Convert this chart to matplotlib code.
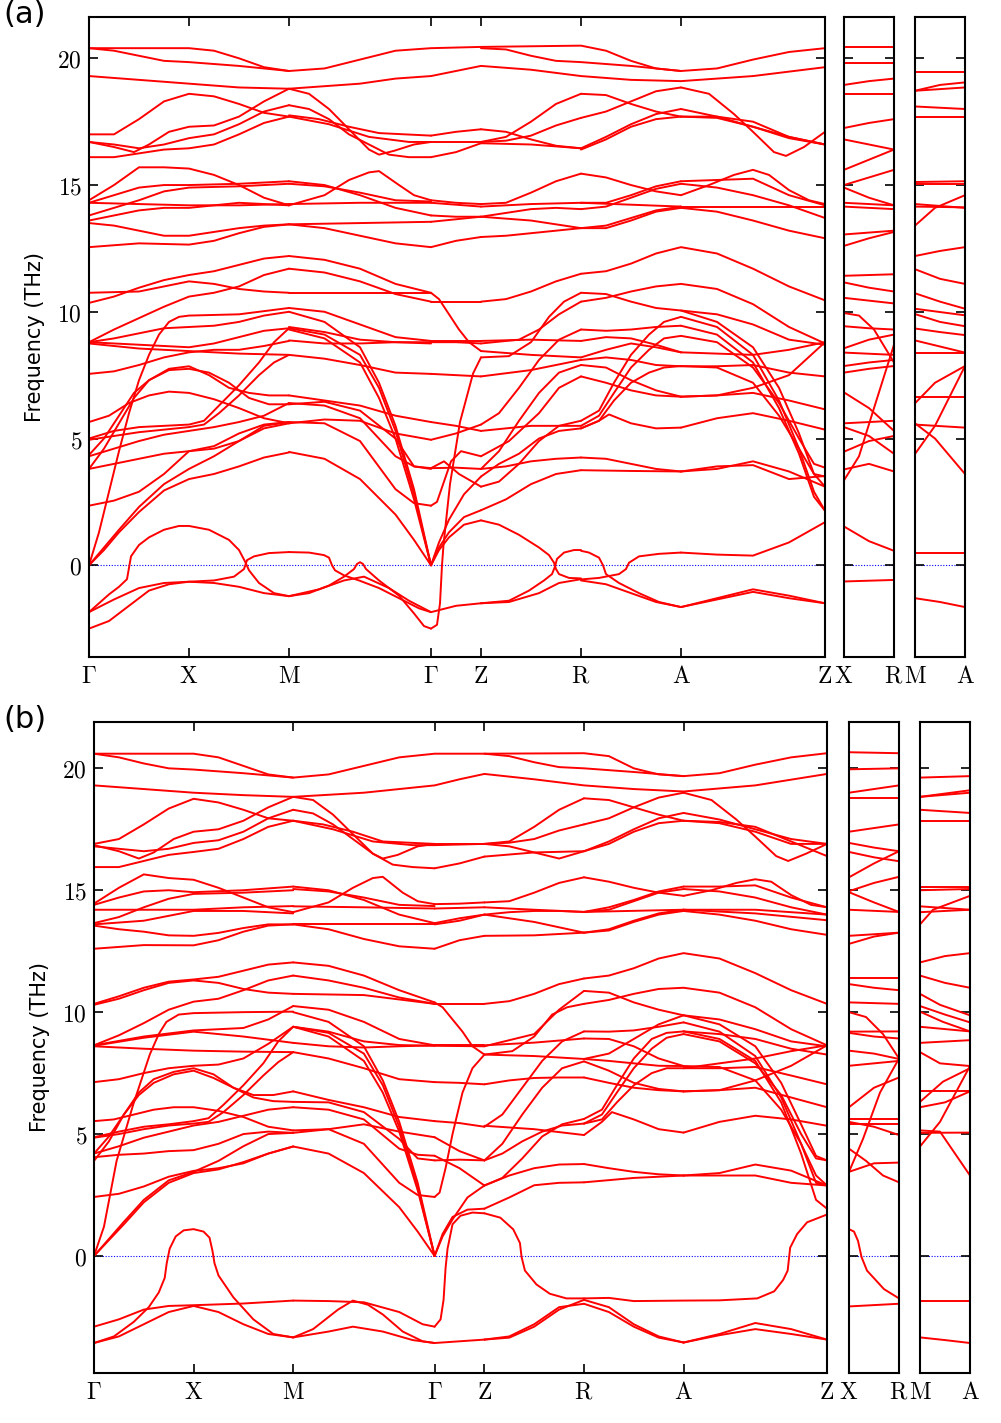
import matplotlib
matplotlib.use("Agg")
import matplotlib.pyplot as plt

plt.rcParams["mathtext.fontset"] = "cm"
plt.rcParams["font.family"] = ["DejaVu Sans"]

# high-symmetry points along the main path (Gamma-X = 1)
PATH_TICKS = [0, 1, 2, 3.42, 3.92, 4.92, 5.92, 7.36]
PATH_LABELS = [r"$\Gamma$", r"$\mathrm{X}$", r"$\mathrm{M}$", r"$\Gamma$", r"$\mathrm{Z}$",
               r"$\mathrm{R}$", r"$\mathrm{A}$", r"$\mathrm{Z}$"]
XR_LABELS = [r"$\mathrm{X}$", r"$\mathrm{R}$"]
MA_LABELS = [r"$\mathrm{M}$", r"$\mathrm{A}$"]
FREQ_TICKS = [0, 5, 10, 15, 20]

# ---------------- panel (a) ----------------
A_HIGH = [
    [(0, 20.4), (1, 20.4), (1.25, 20.3), (1.5, 20.0), (1.75, 19.65), (2, 19.5), (2.355, 19.6), (2.71, 19.95), (3.065, 20.3), (3.42, 20.4), (3.92, 20.45), (4.92, 20.5), (5.17, 20.3), (5.42, 19.9), (5.67, 19.6), (5.92, 19.5), (6.28, 19.6), (6.64, 19.95), (7.0, 20.25), (7.36, 20.4)],
    [(0, 20.4), (0.25, 20.3), (0.5, 20.1), (0.75, 19.9), (1, 19.85), (1.5, 19.7), (2, 19.5)],
    [(3.92, 20.4), (4.17, 20.35), (4.42, 20.1), (4.67, 19.9), (4.92, 19.85), (5.42, 19.7), (5.92, 19.5)],
    [(0, 19.3), (0.5, 19.15), (1, 19.0), (1.5, 18.85), (2, 18.8), (2.71, 19.0), (3.065, 19.2), (3.42, 19.3), (3.67, 19.5), (3.92, 19.7), (4.42, 19.55), (4.92, 19.3), (5.42, 19.15), (5.92, 19.1), (6.64, 19.3), (7.36, 19.65)],
    [(0, 17.0), (0.25, 17.0), (0.5, 17.6), (0.75, 18.3), (1, 18.6), (1.25, 18.5), (1.5, 18.2), (1.75, 17.85), (2, 17.7)],
    [(0, 16.7), (0.25, 16.5), (0.45, 16.3), (0.6, 16.6), (0.8, 17.1), (1, 17.3), (1.25, 17.35), (1.5, 17.7), (1.75, 18.3), (2, 18.8)],
    [(0, 16.7), (0.25, 16.6), (0.5, 16.45), (0.75, 16.6), (1, 16.85), (1.25, 17.0), (1.5, 17.4), (1.75, 17.9), (2, 18.15)],
    [(0, 16.1), (0.25, 16.1), (0.5, 16.25), (0.75, 16.4), (1, 16.45), (1.25, 16.6), (1.5, 17.0), (1.75, 17.45), (2, 17.7)],
    [(2, 18.8), (2.2, 18.6), (2.4, 18.0), (2.6, 17.2), (2.8, 16.4), (2.9, 16.2), (3.05, 16.35), (3.25, 16.6), (3.42, 16.7)],
    [(2, 18.15), (2.2, 18.0), (2.4, 17.6), (2.6, 17.0), (2.8, 16.6), (3.0, 16.2), (3.2, 16.1), (3.42, 16.1)],
    [(2, 17.75), (2.3, 17.6), (2.6, 17.3), (2.9, 17.05), (3.42, 16.95)],
    [(2, 17.7), (2.4, 17.4), (2.8, 16.9), (3.2, 16.7), (3.42, 16.7)],
    [(3.42, 16.95), (3.67, 17.1), (3.92, 17.2)],
    [(3.42, 16.7), (3.92, 16.7)],
    [(3.42, 16.1), (3.67, 16.3), (3.92, 16.65)],
    [(3.92, 16.7), (4.17, 16.9), (4.42, 17.5), (4.67, 18.2), (4.92, 18.6)],
    [(3.92, 16.7), (4.17, 16.75), (4.42, 16.95), (4.67, 17.35), (4.92, 17.65)],
    [(3.92, 17.2), (4.17, 17.1), (4.42, 16.8), (4.67, 16.55), (4.92, 16.45)],
    [(3.92, 16.65), (4.42, 16.6), (4.92, 16.45)],
    [(4.92, 18.6), (5.17, 18.55), (5.42, 18.2), (5.67, 17.9), (5.92, 17.7)],
    [(4.92, 17.65), (5.17, 17.9), (5.42, 18.3), (5.67, 18.7), (5.92, 18.85)],
    [(4.92, 16.45), (5.17, 16.9), (5.42, 17.4), (5.67, 17.8), (5.92, 18.0)],
    [(4.92, 16.4), (5.17, 16.8), (5.42, 17.3), (5.67, 17.6), (5.92, 17.7)],
    [(5.92, 18.85), (6.2, 18.6), (6.45, 17.8), (6.64, 17.1), (6.85, 16.3), (6.97, 16.15), (7.15, 16.5), (7.36, 17.1)],
    [(5.92, 18.0), (6.28, 17.7), (6.64, 17.3), (7.0, 16.85), (7.36, 16.6)],
    [(5.92, 17.7), (6.28, 17.7), (6.64, 17.5), (7.0, 16.9), (7.36, 16.6)],
    [(5.92, 17.7), (6.28, 17.65), (6.64, 17.3), (7.0, 16.9), (7.36, 16.6)],
]

A_MID = [
    [(0, 14.4), (0.25, 15.0), (0.5, 15.7), (0.75, 15.7), (1, 15.65), (1.25, 15.4), (1.5, 15.0), (1.75, 14.5), (2, 14.2)],
    [(0, 14.3), (0.25, 14.6), (0.5, 14.9), (0.75, 15.0), (1, 15.0), (1.5, 15.05), (2, 15.15)],
    [(0, 13.8), (0.25, 14.1), (0.5, 14.4), (0.75, 14.75), (1, 14.9), (1.5, 14.95), (2, 15.05)],
    [(0, 14.3), (0.5, 14.25), (1, 14.2), (1.5, 14.2), (2, 14.25)],
    [(0, 13.6), (0.25, 13.8), (0.5, 14.0), (0.75, 14.1), (1, 14.1), (1.25, 14.2), (1.5, 14.3), (2, 14.2)],
    [(0, 13.5), (0.25, 13.4), (0.5, 13.2), (0.75, 13.0), (1, 13.0), (1.25, 13.15), (1.5, 13.3), (1.75, 13.4), (2, 13.45)],
    [(0, 12.55), (0.5, 12.7), (1, 12.65), (1.25, 12.8), (1.5, 13.1), (1.75, 13.35), (2, 13.45)],
    [(2, 14.2), (2.355, 14.6), (2.6, 15.2), (2.8, 15.5), (2.9, 15.55), (3.1, 15.0), (3.25, 14.6), (3.42, 14.4)],
    [(2, 15.15), (2.355, 15.0), (2.71, 14.6), (3.065, 14.1), (3.42, 13.8)],
    [(2, 15.05), (2.355, 14.95), (2.71, 14.7), (3.065, 14.4), (3.42, 14.35)],
    [(2, 14.25), (2.71, 14.3), (3.42, 14.3)],
    [(2, 13.45), (2.355, 13.3), (2.71, 13.0), (3.065, 12.7), (3.42, 12.55)],
    [(2, 13.45), (2.71, 13.5), (3.42, 13.55)],
    [(3.42, 14.4), (3.67, 14.3), (3.92, 14.25)],
    [(3.42, 14.3), (3.92, 14.15)],
    [(3.42, 13.8), (3.67, 13.75), (3.92, 13.75)],
    [(3.42, 13.55), (3.67, 13.65), (3.92, 13.75)],
    [(3.42, 12.55), (3.67, 12.8), (3.92, 12.95)],
    [(3.92, 14.25), (4.17, 14.3), (4.42, 14.7), (4.67, 15.15), (4.92, 15.45)],
    [(3.92, 14.15), (4.42, 14.25), (4.92, 14.3)],
    [(3.92, 13.75), (4.17, 13.9), (4.42, 14.05), (4.67, 14.1), (4.92, 14.05)],
    [(3.92, 13.75), (4.42, 13.6), (4.92, 13.3)],
    [(3.92, 12.95), (4.17, 13.0), (4.42, 13.1), (4.67, 13.2), (4.92, 13.3)],
    [(4.92, 15.45), (5.17, 15.3), (5.42, 15.0), (5.67, 14.75), (5.92, 14.6)],
    [(4.92, 14.3), (5.17, 14.3), (5.42, 14.6), (5.67, 14.95), (5.92, 15.15)],
    [(4.92, 14.05), (5.17, 14.15), (5.42, 14.5), (5.67, 14.85), (5.92, 15.05)],
    [(4.92, 13.3), (5.17, 13.4), (5.42, 13.7), (5.67, 14.0), (5.92, 14.15)],
    [(4.92, 13.3), (5.17, 13.3), (5.42, 13.6), (5.67, 13.95), (5.92, 14.1)],
    [(4.92, 14.3), (5.92, 14.15)],
    [(5.92, 14.6), (6.2, 15.0), (6.45, 15.4), (6.64, 15.6), (6.8, 15.4), (7.0, 14.8), (7.2, 14.4), (7.36, 14.25)],
    [(5.92, 15.15), (6.28, 15.2), (6.64, 15.25), (7.0, 14.6), (7.36, 14.2)],
    [(5.92, 15.05), (6.28, 14.9), (6.64, 14.6), (7.0, 14.2), (7.36, 13.7)],
    [(5.92, 14.15), (6.64, 14.15), (7.36, 14.15)],
    [(5.92, 14.1), (6.28, 13.95), (6.64, 13.6), (7.0, 13.2), (7.36, 12.9)],
    # 10 - 12.5 THz
    [(0, 10.35), (0.25, 10.6), (0.5, 10.95), (0.75, 11.25), (1, 11.45), (1.25, 11.6), (1.5, 11.85), (1.75, 12.1), (2, 12.2)],
    [(0, 10.75), (0.5, 10.8), (0.75, 11.0), (1, 11.2), (1.25, 11.1), (1.5, 10.9), (1.75, 10.8), (2, 10.75)],
    [(0, 8.8), (0.25, 9.3), (0.5, 9.75), (0.75, 10.2), (1, 10.6), (1.25, 10.75), (1.5, 11.0), (1.75, 11.45), (2, 11.7)],
    [(2, 12.2), (2.355, 12.05), (2.71, 11.7), (3.065, 11.1), (3.42, 10.75)],
    [(2, 11.7), (2.355, 11.55), (2.71, 11.2), (3.065, 10.7), (3.42, 10.4)],
    [(2, 10.75), (2.71, 10.75), (3.42, 10.75)],
    [(3.42, 10.4), (3.67, 10.4), (3.92, 10.4)],
    [(3.42, 10.75), (3.5, 10.5), (3.6, 9.9), (3.7, 9.3), (3.8, 8.8), (3.92, 8.45)],
    [(3.92, 10.4), (4.17, 10.5), (4.42, 10.8), (4.67, 11.2), (4.92, 11.5)],
    [(4.92, 11.5), (5.17, 11.6), (5.42, 11.9), (5.67, 12.3), (5.92, 12.55), (6.28, 12.3), (6.64, 11.7), (7.0, 11.0), (7.36, 10.45)],
    [(4.92, 10.4), (5.17, 10.55), (5.42, 10.8), (5.67, 11.0), (5.92, 11.1), (6.28, 10.9), (6.64, 10.3), (7.0, 9.4), (7.36, 8.75)],
    [(4.92, 10.75), (5.17, 10.7), (5.42, 10.4), (5.67, 10.15), (5.92, 10.05), (6.28, 9.9), (6.64, 9.5), (7.0, 8.9), (7.36, 8.7)],
]

A_LOW = [
    # Gamma - X - M
    [(0, 0), (0.1, 1.3), (0.2, 2.9), (0.3, 4.5), (0.4, 6.0), (0.5, 7.3), (0.6, 8.3), (0.7, 9.1), (0.8, 9.6), (0.9, 9.8), (1, 9.85), (1.5, 9.9), (2, 10.15)],
    [(0, 8.8), (0.25, 8.95), (0.5, 9.15), (0.75, 9.35), (1, 9.4), (1.25, 9.45), (1.5, 9.6), (1.75, 9.85), (2, 10.0)],
    [(0, 8.8), (0.5, 8.7), (1, 8.6), (1.25, 8.75), (1.5, 9.0), (1.75, 9.25), (2, 9.35)],
    [(0, 8.75), (0.5, 8.55), (1, 8.45), (1.5, 8.35), (2, 8.3)],
    [(0, 7.55), (0.25, 7.65), (0.5, 7.9), (0.75, 8.2), (1, 8.4), (1.25, 8.5), (1.5, 8.5), (1.75, 8.65), (2, 8.85)],
    [(0, 3.8), (0.15, 4.6), (0.3, 5.6), (0.45, 6.6), (0.6, 7.3), (0.8, 7.75), (1, 7.85), (1.2, 7.5), (1.4, 7.0), (1.6, 6.8), (1.8, 6.7), (2, 6.7)],
    [(0, 4.35), (0.15, 5.0), (0.3, 5.9), (0.45, 6.8), (0.6, 7.3), (0.8, 7.7), (1, 7.75), (1.2, 7.6), (1.4, 7.2), (1.6, 6.6), (1.8, 6.35), (2, 6.35)],
    [(0, 5.65), (0.2, 5.9), (0.4, 6.4), (0.6, 6.7), (0.8, 6.85), (1, 6.8), (1.25, 6.55), (1.5, 6.2), (1.75, 5.8), (2, 5.6)],
    [(0, 5.0), (0.25, 5.3), (0.5, 5.45), (0.75, 5.5), (1, 5.55), (1.15, 5.7), (1.3, 6.3), (1.5, 7.1), (1.7, 8.0), (1.85, 8.8), (2, 9.35)],
    [(0, 4.95), (0.25, 5.1), (0.5, 5.25), (0.75, 5.35), (1, 5.45), (1.15, 5.55), (1.3, 6.0), (1.5, 6.7), (1.7, 7.5), (1.85, 8.0), (2, 8.3)],
    [(0, 4.3), (0.25, 4.6), (0.5, 4.9), (0.75, 5.15), (1, 5.3), (1.25, 5.45), (1.5, 5.65), (1.75, 5.9), (2, 6.4)],
    [(0, 3.8), (0.25, 4.0), (0.5, 4.2), (0.75, 4.4), (1, 4.5), (1.25, 4.7), (1.5, 5.2), (1.75, 5.55), (2, 5.65)],
    [(0, 2.35), (0.25, 2.55), (0.5, 2.9), (0.75, 3.6), (1, 4.5), (1.25, 4.6), (1.5, 4.9), (1.75, 5.4), (2, 5.6)],
    [(0, 0), (0.15, 0.7), (0.3, 1.4), (0.5, 2.3), (0.75, 3.2), (1, 3.8), (1.25, 4.3), (1.5, 4.9), (1.75, 5.5), (2, 5.65)],
    [(0, 0), (0.15, 0.6), (0.3, 1.3), (0.5, 2.1), (0.75, 2.95), (1, 3.4), (1.25, 3.6), (1.5, 3.9), (1.75, 4.25), (2, 4.45)],
    [(0, -1.85), (0.1, -1.5), (0.2, -1.15), (0.3, -0.85), (0.38, -0.55), (0.4, -0.1), (0.42, 0.35), (0.5, 0.8), (0.6, 1.1), (0.75, 1.4), (0.9, 1.55), (1, 1.55), (1.2, 1.4), (1.4, 1.0), (1.5, 0.6), (1.56, 0.15), (1.6, -0.2), (1.7, -0.7), (1.85, -1.1), (2, -1.22)],
    [(0, -1.85), (0.25, -1.35), (0.5, -0.9), (0.75, -0.7), (1, -0.65), (1.25, -0.6), (1.45, -0.45), (1.55, -0.15), (1.58, 0.2), (1.65, 0.35), (1.8, 0.48), (2, 0.52)],
    [(0, -2.5), (0.2, -2.2), (0.4, -1.6), (0.6, -1.0), (0.8, -0.75), (1, -0.65), (1.25, -0.7), (1.5, -0.85), (1.75, -1.1), (2, -1.22)],
    # M - Gamma
    [(2, 10.15), (2.355, 10.0), (2.71, 9.5), (3.065, 9.0), (3.42, 8.85)],
    [(2, 10.0), (2.355, 9.6), (2.71, 8.6), (2.9, 7.2), (3.065, 5.5), (3.25, 3.0), (3.42, 0)],
    [(2, 9.35), (2.355, 9.1), (2.71, 8.3), (2.9, 7.0), (3.065, 5.3), (3.25, 2.8), (3.42, 0)],
    [(2, 9.3), (2.355, 8.95), (2.71, 8.0), (2.9, 6.6), (3.065, 5.0), (3.25, 2.6), (3.42, 0)],
    [(2, 8.87), (2.355, 8.75), (2.71, 8.75), (3.065, 8.8), (3.42, 8.8)],
    [(2, 8.3), (2.355, 8.15), (2.71, 7.9), (3.065, 7.6), (3.42, 7.55)],
    [(2, 5.65), (2.355, 5.6), (2.71, 4.9), (3.065, 3.0), (3.25, 2.45), (3.42, 2.35)],
    [(2, 4.47), (2.355, 4.2), (2.71, 3.4), (3.065, 2.0), (3.25, 1.0), (3.42, 0)],
    [(2, 6.4), (2.355, 6.3), (2.71, 5.8), (3.065, 4.3), (3.25, 3.9), (3.42, 3.83)],
    [(2, 6.35), (2.355, 6.45), (2.71, 6.1), (3.065, 5.0), (3.25, 3.9), (3.42, 3.8)],
    [(2, 6.7), (2.355, 6.5), (2.71, 6.3), (3.065, 5.9), (3.42, 5.65)],
    [(2, 5.6), (2.355, 5.75), (2.71, 5.7), (3.065, 5.2), (3.42, 4.95)],
    [(2, 9.4), (2.355, 9.2), (2.71, 8.9), (3.065, 8.8), (3.42, 8.75)],
    [(2, 0.52), (2.2, 0.5), (2.35, 0.4), (2.4, 0.3), (2.43, 0.0), (2.46, -0.2), (2.55, -0.4), (2.7, -0.6), (2.9, -0.9), (3.1, -1.3), (3.3, -1.7), (3.42, -1.85)],
    [(2, -1.22), (2.2, -1.1), (2.4, -0.8), (2.55, -0.45), (2.65, -0.15), (2.68, 0.05), (2.71, 0.12), (2.74, 0.05), (2.77, -0.15), (2.9, -0.6), (3.1, -1.2), (3.25, -1.9), (3.35, -2.4), (3.42, -2.5)],
    [(2, -1.22), (2.3, -0.95), (2.55, -0.6), (2.75, -0.45), (3.0, -0.9), (3.2, -1.4), (3.42, -1.85)],
    # Gamma - Z
    [(3.42, 8.85), (3.92, 8.85)],
    [(3.42, 8.8), (3.67, 8.8), (3.92, 8.75)],
    [(3.42, 7.55), (3.67, 7.5), (3.92, 7.45)],
    [(3.42, 5.65), (3.67, 5.5), (3.92, 5.3)],
    [(3.42, 4.95), (3.67, 5.2), (3.92, 5.55)],
    [(3.42, 3.83), (3.67, 3.85), (3.92, 3.8)],
    [(3.42, 3.83), (3.55, 4.1), (3.7, 3.6), (3.92, 3.1)],
    [(3.42, 2.35), (3.48, 2.5), (3.55, 3.3), (3.62, 4.1), (3.72, 4.5), (3.92, 4.3)],
    [(3.42, 0), (3.5, 0.9), (3.6, 1.8), (3.75, 2.8), (3.92, 3.5)],
    [(3.42, 0), (3.5, 0.6), (3.6, 1.1), (3.75, 1.6), (3.92, 1.77)],
    [(3.42, 0), (3.5, 0.7), (3.6, 1.3), (3.75, 1.9), (3.92, 2.17)],
    [(3.42, -2.5), (3.48, -2.35), (3.51, -1.5), (3.53, 0.0), (3.545, 0.8), (3.61, 3.2), (3.71, 5.65), (3.84, 7.56), (3.92, 8.2)],
    [(3.42, -1.85), (3.67, -1.6), (3.92, -1.5)],
    # Z - R
    [(3.92, 1.77), (4.1, 1.6), (4.3, 1.2), (4.5, 0.7), (4.6, 0.4), (4.65, 0.1), (4.67, -0.15), (4.7, -0.35), (4.8, -0.5), (4.92, -0.52)],
    [(3.92, -1.5), (4.2, -1.4), (4.4, -1.0), (4.55, -0.6), (4.63, -0.35), (4.66, -0.05), (4.68, 0.25), (4.75, 0.5), (4.85, 0.6), (4.92, 0.6)],
    [(3.92, -1.5), (4.2, -1.45), (4.5, -1.1), (4.7, -0.7), (4.92, -0.55)],
    [(3.92, 2.17), (4.17, 2.6), (4.42, 3.2), (4.67, 3.6), (4.92, 3.75)],
    [(3.92, 3.1), (4.1, 3.3), (4.3, 4.0), (4.5, 4.9), (4.7, 5.5), (4.92, 5.7)],
    [(3.92, 3.8), (4.1, 4.5), (4.3, 5.7), (4.5, 6.8), (4.7, 7.6), (4.92, 7.9)],
    [(3.92, 3.5), (4.1, 4.0), (4.3, 4.4), (4.5, 5.0), (4.7, 5.3), (4.92, 5.4)],
    [(3.92, 5.3), (4.17, 5.4), (4.42, 5.5), (4.67, 5.5), (4.92, 5.5)],
    [(3.92, 5.55), (4.1, 6.0), (4.3, 7.0), (4.5, 8.1), (4.7, 8.9), (4.92, 9.3)],
    [(3.92, 7.45), (4.42, 7.7), (4.92, 8.1)],
    [(3.92, 8.2), (4.2, 8.25), (4.42, 8.8), (4.6, 9.8), (4.75, 10.4), (4.92, 10.75)],
    [(3.92, 8.85), (4.42, 8.9), (4.92, 8.85)],
    [(3.92, 8.75), (4.3, 8.9), (4.5, 9.3), (4.7, 9.9), (4.92, 10.4)],
    [(3.92, 3.8), (4.17, 3.9), (4.42, 4.1), (4.67, 4.2), (4.92, 4.25)],
    [(3.92, 4.3), (4.2, 4.9), (4.5, 6.0), (4.7, 7.0), (4.92, 7.45)],
    [(3.92, 8.45), (4.42, 8.3), (4.92, 8.2)],
    # R - A
    [(4.92, 0.57), (5.0, 0.5), (5.1, 0.3), (5.14, 0.0), (5.17, -0.35), (5.3, -0.7), (5.5, -1.1), (5.7, -1.45), (5.92, -1.65)],
    [(4.92, -0.56), (5.1, -0.5), (5.3, -0.35), (5.37, -0.15), (5.4, 0.1), (5.5, 0.35), (5.7, 0.45), (5.92, 0.5)],
    [(4.92, -0.6), (5.17, -0.75), (5.42, -1.1), (5.67, -1.45), (5.92, -1.65)],
    [(4.92, 9.3), (5.17, 9.25), (5.42, 9.3), (5.67, 9.4), (5.92, 9.45)],
    [(4.92, 8.85), (5.17, 9.0), (5.42, 8.95), (5.67, 8.7), (5.92, 8.4)],
    [(4.92, 5.7), (5.1, 6.1), (5.25, 7.2), (5.42, 8.3), (5.6, 9.1), (5.75, 9.6), (5.92, 9.8)],
    [(4.92, 5.5), (5.1, 5.9), (5.25, 6.8), (5.42, 7.8), (5.6, 8.5), (5.75, 8.95), (5.92, 9.05)],
    [(4.92, 5.4), (5.1, 5.7), (5.25, 6.5), (5.42, 7.2), (5.6, 7.6), (5.75, 7.8), (5.92, 7.86)],
    [(4.92, 5.4), (5.1, 5.7), (5.2, 5.95), (5.42, 5.6), (5.67, 5.4), (5.92, 5.43)],
    [(4.92, 8.1), (5.17, 8.2), (5.42, 8.1), (5.67, 7.9), (5.92, 7.85)],
    [(4.92, 7.9), (5.17, 7.8), (5.42, 7.3), (5.67, 6.9), (5.92, 6.65)],
    [(4.92, 7.45), (5.17, 7.2), (5.42, 6.9), (5.67, 6.7), (5.92, 6.65)],
    [(4.92, 4.25), (5.17, 4.2), (5.42, 4.0), (5.67, 3.8), (5.92, 3.7)],
    [(4.92, 3.75), (5.42, 3.72), (5.92, 3.7)],
    [(4.92, 8.2), (5.17, 8.5), (5.42, 8.75), (5.67, 8.6), (5.92, 8.4)],
    # A - Z
    [(5.92, 0.5), (6.28, 0.42), (6.64, 0.38), (7.0, 0.9), (7.36, 1.7)],
    [(5.92, -1.65), (6.28, -1.3), (6.64, -0.95), (7.0, -1.2), (7.36, -1.5)],
    [(5.92, -1.65), (6.28, -1.35), (6.64, -1.05), (7.0, -1.3), (7.36, -1.5)],
    [(5.92, 10.05), (6.28, 9.6), (6.64, 8.6), (6.9, 7.0), (7.1, 5.2), (7.25, 3.6), (7.36, 3.1)],
    [(5.92, 9.8), (6.28, 9.4), (6.64, 8.3), (6.9, 6.5), (7.1, 4.6), (7.25, 2.9), (7.36, 2.15)],
    [(5.92, 9.45), (6.28, 9.1), (6.64, 8.0), (6.9, 6.2), (7.1, 4.4), (7.25, 2.7), (7.36, 2.15)],
    [(5.92, 9.05), (6.28, 8.8), (6.64, 7.8), (6.9, 6.4), (7.1, 5.0), (7.25, 4.0), (7.36, 3.85)],
    [(5.92, 7.86), (6.28, 7.8), (6.64, 7.2), (6.9, 5.9), (7.1, 4.6), (7.25, 3.6), (7.36, 3.5)],
    [(5.92, 8.4), (6.28, 8.35), (6.64, 8.3), (7.0, 8.5), (7.36, 8.8)],
    [(5.92, 7.85), (6.28, 7.85), (6.64, 7.9), (7.0, 7.6), (7.36, 7.45)],
    [(5.92, 6.65), (6.28, 6.7), (6.64, 6.8), (7.0, 6.5), (7.36, 6.15)],
    [(5.92, 5.43), (6.28, 5.8), (6.64, 6.0), (7.0, 5.7), (7.36, 5.35)],
    [(5.92, 3.7), (6.28, 3.8), (6.64, 4.1), (7.0, 3.7), (7.36, 3.1)],
    [(5.92, 3.7), (6.28, 3.9), (6.64, 3.95), (7.0, 3.4), (7.36, 3.52)],
    [(5.92, 6.65), (6.28, 6.7), (6.64, 7.0), (7.0, 7.5), (7.36, 8.8)],
]

# side panels: (k, f) with k from 0 to 0.5
A_XR = [
    [(0, 20.45), (0.5, 20.45)], [(0, 19.8), (0.5, 19.8)], [(0, 18.95), (0.25, 19.1), (0.5, 19.2)],
    [(0, 18.6), (0.5, 18.6)], [(0, 17.25), (0.25, 17.45), (0.5, 17.6)], [(0, 16.8), (0.25, 16.6), (0.5, 16.4)],
    [(0, 15.6), (0.25, 16.0), (0.5, 16.4)], [(0, 15.0), (0.25, 15.3), (0.5, 15.6)], [(0, 14.9), (0.25, 14.5), (0.5, 14.2)],
    [(0, 14.3), (0.5, 14.2)], [(0, 14.15), (0.5, 14.05)], [(0, 13.05), (0.5, 13.2)], [(0, 12.6), (0.25, 12.9), (0.5, 13.15)],
    [(0, 11.42), (0.5, 11.48)], [(0, 11.16), (0.25, 10.95), (0.5, 10.8)], [(0, 10.55), (0.5, 10.33)],
    [(0, 9.95), (0.15, 9.85), (0.3, 9.3), (0.5, 8.0)], [(0, 9.43), (0.25, 9.35), (0.5, 9.3)], [(0, 8.56), (0.25, 8.9), (0.5, 9.1)],
    [(0, 8.39), (0.5, 8.3)], [(0, 7.86), (0.25, 8.0), (0.5, 8.1)], [(0, 7.6), (0.25, 7.75), (0.5, 7.86)],
    [(0, 6.82), (0.25, 6.2), (0.5, 5.3)], [(0, 3.35), (0.15, 4.3), (0.3, 6.2), (0.5, 8.7)], [(0, 5.6), (0.5, 5.7)],
    [(0, 5.45), (0.25, 5.1), (0.5, 4.4)], [(0, 4.48), (0.25, 4.9), (0.5, 5.1)], [(0, 3.78), (0.25, 4.0), (0.5, 3.7)],
    [(0, 1.53), (0.25, 0.95), (0.5, 0.57)], [(0, -0.64), (0.5, -0.58)],
]
A_MA = [
    [(0, 19.47), (0.5, 19.47)], [(0, 18.72), (0.5, 18.85)], [(0, 18.72), (0.25, 18.95), (0.5, 19.05)],
    [(0, 18.1), (0.5, 18.0)], [(0, 17.67), (0.5, 17.67)], [(0, 15.12), (0.5, 15.15)], [(0, 15.05), (0.5, 15.05)],
    [(0, 13.4), (0.2, 14.1), (0.5, 14.6)], [(0, 14.25), (0.5, 14.1)], [(0, 14.15), (0.5, 14.12)],
    [(0, 12.2), (0.25, 12.4), (0.5, 12.55)], [(0, 11.68), (0.25, 11.3), (0.5, 11.1)],
    [(0, 10.73), (0.25, 10.4), (0.5, 10.12)], [(0, 10.12), (0.5, 9.86)], [(0, 9.91), (0.25, 9.6), (0.5, 9.43)],
    [(0, 9.34), (0.25, 9.2), (0.5, 9.08)], [(0, 8.87), (0.5, 8.39)], [(0, 8.39), (0.5, 8.39)],
    [(0, 6.65), (0.5, 6.65)], [(0, 6.39), (0.2, 7.2), (0.5, 7.86)], [(0, 5.6), (0.2, 5.0), (0.5, 3.6)],
    [(0, 4.39), (0.2, 5.5), (0.5, 7.86)], [(0, 5.55), (0.5, 5.43)],
    [(0, 0.49), (0.5, 0.49)], [(0, -1.3), (0.25, -1.45), (0.5, -1.65)],
]

# ---------------- panel (b) ----------------
B_HIGH = [
    [(0, 20.6), (1, 20.6), (1.25, 20.45), (1.5, 20.1), (1.75, 19.75), (2, 19.62), (2.355, 19.75), (2.71, 20.1), (3.065, 20.45), (3.42, 20.6), (3.92, 20.6), (4.92, 20.62), (5.17, 20.5), (5.42, 20.0), (5.67, 19.75), (5.92, 19.68), (6.28, 19.8), (6.64, 20.15), (7.0, 20.45), (7.36, 20.62)],
    [(0, 20.6), (0.25, 20.45), (0.5, 20.2), (0.75, 20.0), (1, 19.95), (1.5, 19.8), (2, 19.62)],
    [(3.92, 20.6), (4.17, 20.5), (4.42, 20.25), (4.67, 20.05), (4.92, 20.0), (5.42, 19.85), (5.92, 19.68)],
    [(0, 19.3), (0.5, 19.15), (1, 19.0), (1.5, 18.9), (2, 18.83), (2.71, 19.0), (3.065, 19.15), (3.42, 19.3), (3.67, 19.55), (3.92, 19.77), (4.42, 19.55), (4.92, 19.3), (5.42, 19.15), (5.92, 19.05), (6.64, 19.3), (7.36, 19.77)],
    [(0, 16.9), (0.25, 17.1), (0.5, 17.7), (0.75, 18.35), (1, 18.75), (1.25, 18.6), (1.5, 18.3), (1.75, 17.95), (2, 17.85)],
    [(0, 16.85), (0.25, 16.6), (0.45, 16.3), (0.6, 16.55), (0.8, 17.1), (1, 17.4), (1.25, 17.5), (1.5, 17.85), (1.75, 18.4), (2, 18.83)],
    [(0, 16.8), (0.25, 16.7), (0.5, 16.6), (0.75, 16.7), (1, 16.94), (1.25, 17.05), (1.5, 17.4), (1.75, 17.95), (2, 18.3)],
    [(0, 15.95), (0.25, 15.95), (0.5, 16.2), (0.75, 16.45), (1, 16.57), (1.25, 16.7), (1.5, 17.1), (1.75, 17.6), (2, 17.85)],
    [(2, 18.83), (2.2, 18.7), (2.4, 18.1), (2.6, 17.3), (2.8, 16.5), (2.9, 16.3), (3.05, 16.45), (3.25, 16.8), (3.42, 16.9)],
    [(2, 18.3), (2.2, 18.15), (2.4, 17.7), (2.6, 17.1), (2.8, 16.5), (3.0, 16.05), (3.2, 15.95), (3.42, 15.9)],
    [(2, 17.85), (2.3, 17.7), (2.6, 17.4), (2.9, 17.0), (3.42, 16.9)],
    [(2, 17.85), (2.4, 17.5), (2.8, 17.0), (3.2, 16.85), (3.42, 16.85)],
    [(3.42, 16.9), (3.67, 16.9), (3.92, 16.9)],
    [(3.42, 16.85), (3.92, 16.9)],
    [(3.42, 15.9), (3.67, 16.1), (3.92, 16.38)],
    [(3.92, 16.9), (4.17, 17.0), (4.42, 17.6), (4.67, 18.3), (4.92, 18.77)],
    [(3.92, 16.9), (4.17, 16.95), (4.42, 17.1), (4.67, 17.45), (4.92, 17.7)],
    [(3.92, 16.9), (4.17, 16.8), (4.42, 16.55), (4.67, 16.3), (4.92, 16.6)],
    [(3.92, 16.38), (4.42, 16.55), (4.92, 16.6)],
    [(4.92, 18.77), (5.17, 18.7), (5.42, 18.4), (5.67, 18.1), (5.92, 17.85)],
    [(4.92, 17.7), (5.17, 17.95), (5.42, 18.4), (5.67, 18.8), (5.92, 19.0)],
    [(4.92, 16.6), (5.17, 17.0), (5.42, 17.5), (5.67, 17.95), (5.92, 18.17)],
    [(4.92, 16.6), (5.17, 16.9), (5.42, 17.4), (5.67, 17.75), (5.92, 17.85)],
    [(5.92, 19.0), (6.2, 18.7), (6.45, 17.9), (6.64, 17.2), (6.85, 16.4), (6.97, 16.2), (7.15, 16.5), (7.36, 16.9)],
    [(5.92, 18.17), (6.28, 17.9), (6.64, 17.5), (7.0, 17.1), (7.36, 16.9)],
    [(5.92, 17.85), (6.28, 17.8), (6.64, 17.6), (7.0, 17.0), (7.36, 16.4)],
    [(5.92, 17.85), (6.28, 17.75), (6.64, 17.4), (7.0, 16.9), (7.36, 16.9)],
]

B_MID = [
    [(0, 14.45), (0.25, 15.1), (0.5, 15.65), (0.75, 15.5), (1, 15.43), (1.25, 15.1), (1.5, 14.7), (1.75, 14.3), (2, 14.1)],
    [(0, 14.4), (0.25, 14.7), (0.5, 14.95), (0.75, 15.0), (1, 14.92), (1.5, 15.0), (2, 15.15)],
    [(0, 13.65), (0.25, 13.9), (0.5, 14.3), (0.75, 14.65), (1, 14.85), (1.5, 14.9), (2, 15.0)],
    [(0, 14.2), (0.5, 14.2), (1, 14.2), (1.5, 14.3), (2, 14.35)],
    [(0, 13.6), (0.5, 13.75), (1, 14.15), (1.5, 14.15), (2, 14.05)],
    [(0, 13.55), (0.25, 13.4), (0.5, 13.3), (0.75, 13.15), (1, 13.13), (1.25, 13.25), (1.5, 13.45), (1.75, 13.6), (2, 13.6)],
    [(0, 12.6), (0.5, 12.75), (1, 12.74), (1.25, 12.95), (1.5, 13.3), (1.75, 13.55), (2, 13.6)],
    [(2, 14.1), (2.355, 14.5), (2.6, 15.1), (2.8, 15.5), (2.9, 15.55), (3.1, 14.9), (3.25, 14.55), (3.42, 14.43)],
    [(2, 15.15), (2.355, 15.0), (2.71, 14.6), (3.065, 14.0), (3.42, 13.65)],
    [(2, 15.05), (2.355, 14.95), (2.71, 14.7), (3.065, 14.4), (3.42, 14.35)],
    [(2, 14.34), (2.71, 14.3), (3.42, 14.25)],
    [(2, 13.6), (2.355, 13.4), (2.71, 13.0), (3.065, 12.7), (3.42, 12.6)],
    [(2, 13.6), (2.71, 13.6), (3.42, 13.6)],
    [(3.42, 14.43), (3.67, 14.45), (3.92, 14.5)],
    [(3.42, 14.25), (3.92, 14.3)],
    [(3.42, 13.65), (3.67, 13.85), (3.92, 14.0)],
    [(3.42, 13.6), (3.67, 13.75), (3.92, 14.0)],
    [(3.42, 12.6), (3.67, 12.95), (3.92, 13.13)],
    [(3.92, 14.5), (4.17, 14.55), (4.42, 14.9), (4.67, 15.3), (4.92, 15.53)],
    [(3.92, 14.3), (4.42, 14.2), (4.92, 14.11)],
    [(3.92, 14.0), (4.17, 14.1), (4.42, 14.15), (4.67, 14.15), (4.92, 14.11)],
    [(3.92, 14.0), (4.42, 13.7), (4.92, 13.26)],
    [(3.92, 13.13), (4.42, 13.15), (4.92, 13.26)],
    [(4.92, 15.53), (5.17, 15.35), (5.42, 15.1), (5.67, 14.9), (5.92, 14.77)],
    [(4.92, 14.11), (5.17, 14.3), (5.42, 14.6), (5.67, 14.95), (5.92, 15.15)],
    [(4.92, 14.11), (5.17, 14.2), (5.42, 14.55), (5.67, 14.9), (5.92, 15.05)],
    [(4.92, 13.26), (5.17, 13.4), (5.42, 13.75), (5.67, 14.05), (5.92, 14.2)],
    [(4.92, 13.26), (5.17, 13.35), (5.42, 13.7), (5.67, 14.0), (5.92, 14.15)],
    [(4.92, 14.11), (5.92, 14.2)],
    [(5.92, 14.77), (6.2, 15.0), (6.45, 15.3), (6.64, 15.45), (6.8, 15.35), (7.0, 14.8), (7.2, 14.4), (7.36, 14.3)],
    [(5.92, 15.15), (6.28, 15.15), (6.64, 15.2), (7.0, 14.7), (7.36, 14.3)],
    [(5.92, 15.05), (6.28, 14.95), (6.64, 14.7), (7.0, 14.3), (7.36, 14.0)],
    [(5.92, 14.2), (6.64, 14.2), (7.36, 14.0)],
    [(5.92, 14.15), (6.28, 14.0), (6.64, 13.75), (7.0, 13.4), (7.36, 13.17)],
    [(5.92, 14.2), (6.64, 14.05), (7.36, 13.77)],
    # 10 - 12.5 THz
    [(0, 10.34), (0.25, 10.65), (0.5, 11.0), (0.75, 11.25), (1, 11.34), (1.25, 11.45), (1.5, 11.7), (1.75, 11.95), (2, 12.04)],
    [(0, 10.3), (0.25, 10.55), (0.5, 10.9), (0.75, 11.2), (1, 11.3), (1.25, 11.2), (1.5, 10.95), (1.75, 10.8), (2, 10.75)],
    [(0, 8.64), (0.25, 9.05), (0.5, 9.55), (0.75, 10.1), (1, 10.43), (1.25, 10.55), (1.5, 10.9), (1.75, 11.3), (2, 11.5)],
    [(2, 12.04), (2.355, 11.9), (2.71, 11.5), (3.065, 10.9), (3.42, 10.4)],
    [(2, 11.5), (2.355, 11.3), (2.71, 11.0), (3.065, 10.6), (3.42, 10.34)],
    [(2, 10.75), (2.71, 10.7), (3.42, 10.34)],
    [(3.42, 10.34), (3.92, 10.34)],
    [(3.42, 10.4), (3.5, 10.2), (3.6, 9.7), (3.7, 9.2), (3.8, 8.6), (3.92, 8.26)],
    [(3.92, 10.34), (4.17, 10.45), (4.42, 10.75), (4.67, 11.15), (4.92, 11.38)],
    [(4.92, 11.38), (5.17, 11.5), (5.42, 11.8), (5.67, 12.2), (5.92, 12.42), (6.28, 12.2), (6.64, 11.6), (7.0, 10.9), (7.36, 10.34)],
    [(4.92, 10.34), (5.17, 10.5), (5.42, 10.75), (5.67, 10.95), (5.92, 11.0), (6.28, 10.8), (6.64, 10.2), (7.0, 9.3), (7.36, 8.64)],
    [(4.92, 10.87), (5.17, 10.8), (5.42, 10.4), (5.67, 10.1), (5.92, 9.87), (6.28, 9.7), (6.64, 9.3), (7.0, 8.8), (7.36, 8.6)],
]

B_LOW = [
    # Gamma - X - M
    [(0, 0), (0.1, 1.2), (0.227, 3.9), (0.393, 6.2), (0.56, 8.26), (0.65, 9.1), (0.727, 9.6), (0.85, 9.9), (1, 9.96), (1.5, 10.0), (2, 10.02)],
    [(0, 8.64), (0.5, 9.0), (1, 9.25), (1.5, 9.35), (1.75, 9.7), (2, 10.25)],
    [(0, 8.62), (0.5, 8.95), (1, 9.2), (1.5, 9.0), (2, 8.74)],
    [(0, 8.6), (0.5, 8.5), (1, 8.42), (1.5, 8.38), (2, 8.36)],
    [(0, 7.13), (0.25, 7.25), (0.5, 7.5), (0.75, 7.7), (1, 7.8), (1.25, 7.85), (1.5, 8.1), (1.75, 8.7), (2, 9.4)],
    [(0, 3.9), (0.15, 4.7), (0.3, 5.8), (0.45, 6.7), (0.6, 7.25), (0.8, 7.55), (1, 7.7), (1.2, 7.45), (1.4, 6.9), (1.6, 6.6), (1.8, 6.6), (2, 6.75)],
    [(0, 4.2), (0.15, 4.9), (0.3, 5.8), (0.45, 6.6), (0.6, 7.1), (0.8, 7.45), (1, 7.6), (1.2, 7.3), (1.4, 6.9), (1.6, 6.5), (1.8, 6.35), (2, 6.32)],
    [(0, 5.53), (0.2, 5.6), (0.4, 5.8), (0.6, 6.0), (0.8, 6.1), (1, 6.1), (1.25, 5.95), (1.5, 5.7), (1.75, 5.3), (2, 5.15)],
    [(0, 4.87), (0.25, 5.1), (0.5, 5.3), (0.75, 5.4), (1, 5.53), (1.15, 5.65), (1.3, 6.2), (1.5, 7.0), (1.7, 7.9), (1.85, 8.8), (2, 9.4)],
    [(0, 4.85), (0.25, 5.0), (0.5, 5.2), (0.75, 5.35), (1, 5.43), (1.15, 5.5), (1.3, 5.9), (1.5, 6.6), (1.7, 7.4), (1.85, 7.95), (2, 8.36)],
    [(0, 4.2), (0.25, 4.5), (0.5, 4.85), (0.75, 5.1), (1, 5.35), (1.25, 5.5), (1.5, 5.75), (1.75, 6.0), (2, 6.1)],
    [(0, 4.05), (0.25, 4.15), (0.5, 4.2), (0.75, 4.3), (1, 4.34), (1.25, 4.6), (1.5, 5.0), (1.75, 5.1), (2, 5.05)],
    [(0, 2.42), (0.25, 2.55), (0.5, 2.85), (0.75, 3.25), (1, 3.49), (1.25, 3.6), (1.5, 3.8), (1.75, 4.2), (2, 4.49)],
    [(0, 0), (0.15, 0.7), (0.3, 1.4), (0.5, 2.3), (0.75, 3.1), (1, 3.45), (1.25, 3.9), (1.5, 4.5), (1.75, 5.0), (2, 5.05)],
    [(0, 0), (0.15, 0.65), (0.3, 1.3), (0.5, 2.2), (0.75, 3.0), (1, 3.4), (1.25, 3.55), (1.5, 3.85), (1.75, 4.2), (2, 4.49)],
    [(0, -3.57), (0.2, -3.3), (0.4, -2.7), (0.55, -2.1), (0.65, -1.5), (0.71, -0.9), (0.73, -0.3), (0.76, 0.3), (0.82, 0.8), (0.9, 1.05), (1, 1.1), (1.1, 1.0), (1.16, 0.75), (1.19, 0.2), (1.21, -0.3), (1.25, -0.8), (1.4, -1.7), (1.6, -2.6), (1.8, -3.2), (2, -3.34)],
    [(0, -2.9), (0.25, -2.6), (0.5, -2.2), (0.75, -2.05), (1, -2.02), (1.5, -1.95), (2, -1.83)],
    [(0, -3.57), (0.25, -3.3), (0.5, -2.8), (0.75, -2.3), (1, -2.05), (1.25, -2.3), (1.5, -2.8), (1.75, -3.2), (2, -3.34)],
    # M - Gamma
    [(2, 10.25), (2.355, 10.1), (2.71, 9.6), (3.065, 8.9), (3.42, 8.64)],
    [(2, 10.0), (2.355, 9.6), (2.71, 8.6), (2.9, 7.2), (3.065, 5.5), (3.25, 3.0), (3.42, 0)],
    [(2, 9.4), (2.355, 9.15), (2.71, 8.3), (2.9, 7.0), (3.065, 5.3), (3.25, 2.8), (3.42, 0)],
    [(2, 9.4), (2.355, 9.0), (2.71, 8.0), (2.9, 6.7), (3.065, 5.1), (3.25, 2.7), (3.42, 0)],
    [(2, 8.74), (2.355, 8.6), (2.71, 8.55), (3.065, 8.6), (3.42, 8.64)],
    [(2, 8.36), (2.355, 8.1), (2.71, 7.7), (3.065, 7.25), (3.42, 7.13)],
    [(2, 5.15), (2.355, 5.2), (2.71, 4.6), (3.065, 3.0), (3.25, 2.5), (3.42, 2.42)],
    [(2, 4.49), (2.355, 4.2), (2.71, 3.4), (3.065, 2.0), (3.25, 1.0), (3.42, 0)],
    [(2, 6.1), (2.355, 6.0), (2.71, 5.6), (3.065, 4.4), (3.25, 4.15), (3.42, 4.11)],
    [(2, 6.32), (2.355, 6.3), (2.71, 5.9), (3.065, 4.8), (3.25, 4.0), (3.42, 3.92)],
    [(2, 6.75), (2.355, 6.4), (2.71, 6.1), (3.065, 5.7), (3.42, 5.53)],
    [(2, 5.05), (2.355, 5.2), (2.71, 5.4), (3.065, 5.1), (3.42, 4.87)],
    [(2, 9.4), (2.355, 9.2), (2.71, 8.8), (3.065, 8.65), (3.42, 8.62)],
    [(2, -1.83), (2.355, -1.85), (2.71, -1.9), (3.065, -2.3), (3.3, -2.8), (3.42, -2.9)],
    [(2, -3.34), (2.2, -3.0), (2.45, -2.2), (2.6, -1.83), (2.75, -2.0), (2.9, -2.4), (3.1, -3.1), (3.3, -3.5), (3.42, -3.57)],
    [(2, -3.34), (2.355, -3.1), (2.6, -2.9), (2.9, -3.1), (3.2, -3.45), (3.42, -3.57)],
    # Gamma - Z
    [(3.42, 8.64), (3.92, 8.64)],
    [(3.42, 8.62), (3.92, 8.6)],
    [(3.42, 7.13), (3.67, 7.1), (3.92, 7.04)],
    [(3.42, 5.53), (3.67, 5.45), (3.92, 5.3)],
    [(3.42, 4.87), (3.67, 4.3), (3.92, 3.92)],
    [(3.42, 4.11), (3.67, 3.6), (3.92, 2.89)],
    [(3.42, 3.92), (3.67, 3.95), (3.92, 3.92)],
    [(3.42, 2.42), (3.47, 2.6), (3.53, 3.6), (3.6, 5.0), (3.7, 6.7), (3.8, 7.7), (3.92, 8.26)],
    [(3.42, 0), (3.5, 0.9), (3.6, 1.6), (3.75, 1.9), (3.92, 1.94)],
    [(3.42, 0), (3.5, 0.8), (3.6, 1.5), (3.75, 2.4), (3.92, 2.89)],
    [(3.42, -2.9), (3.48, -2.6), (3.51, -1.8), (3.53, -0.5), (3.55, 0.3), (3.6, 1.3), (3.68, 1.65), (3.8, 1.78), (3.92, 1.75)],
    [(3.42, -3.57), (3.67, -3.5), (3.92, -3.43)],
    # Z - R
    [(3.92, 1.75), (4.08, 1.57), (4.21, 1.09), (4.277, 0.53), (4.293, -0.04), (4.327, -0.6), (4.443, -1.17), (4.577, -1.55), (4.743, -1.74), (4.92, -1.74)],
    [(3.92, -3.43), (4.17, -3.3), (4.42, -2.8), (4.67, -2.1), (4.92, -1.96)],
    [(3.92, -3.43), (4.17, -3.35), (4.42, -2.9), (4.67, -2.2), (4.92, -1.8)],
    [(3.92, 1.94), (4.17, 2.4), (4.42, 2.9), (4.67, 3.0), (4.92, 3.02)],
    [(3.92, 2.89), (4.17, 3.3), (4.42, 3.6), (4.67, 3.75), (4.92, 3.77)],
    [(3.92, 2.89), (4.1, 3.2), (4.3, 4.0), (4.5, 4.9), (4.7, 5.4), (4.92, 5.62)],
    [(3.92, 3.92), (4.1, 4.6), (4.3, 5.8), (4.5, 6.9), (4.7, 7.7), (4.92, 7.98)],
    [(3.92, 3.92), (4.1, 4.2), (4.3, 4.7), (4.5, 5.1), (4.7, 5.35), (4.92, 5.43)],
    [(3.92, 5.34), (4.42, 5.2), (4.92, 4.96)],
    [(3.92, 5.3), (4.1, 5.8), (4.3, 6.9), (4.5, 8.0), (4.7, 8.8), (4.92, 9.21)],
    [(3.92, 7.04), (4.17, 7.2), (4.42, 7.3), (4.67, 7.32), (4.92, 7.32)],
    [(3.92, 8.26), (4.2, 8.4), (4.42, 9.0), (4.6, 9.9), (4.75, 10.2), (4.92, 10.34)],
    [(3.92, 8.64), (4.42, 8.75), (4.92, 8.92)],
    [(3.92, 8.6), (4.42, 9.1), (4.67, 10.1), (4.92, 10.87)],
    [(3.92, 8.26), (4.42, 8.2), (4.92, 8.08)],
    # R - A
    [(4.92, -1.74), (5.17, -1.72), (5.42, -1.85), (5.67, -1.84), (5.92, -1.83), (6.28, -1.82), (6.66, -1.74), (6.83, -1.45), (6.92, -0.98), (6.965, -0.6), (6.98, -0.04), (6.99, 0.34), (7.06, 0.9), (7.16, 1.38), (7.36, 1.7)],
    [(4.92, -1.96), (5.17, -2.3), (5.42, -2.9), (5.67, -3.35), (5.92, -3.55)],
    [(4.92, -1.8), (5.17, -2.1), (5.42, -2.8), (5.67, -3.3), (5.92, -3.55)],
    [(4.92, 9.21), (5.17, 9.2), (5.42, 9.25), (5.67, 9.4), (5.92, 9.58)],
    [(4.92, 8.92), (5.17, 8.9), (5.42, 8.6), (5.67, 8.1), (5.92, 7.79)],
    [(4.92, 5.62), (5.1, 6.0), (5.25, 7.0), (5.42, 8.1), (5.6, 8.9), (5.75, 9.15), (5.92, 9.21)],
    [(4.92, 5.43), (5.1, 5.8), (5.25, 6.7), (5.42, 7.7), (5.6, 8.5), (5.75, 8.95), (5.92, 9.1)],
    [(4.92, 5.43), (5.1, 5.6), (5.25, 6.3), (5.42, 7.0), (5.6, 7.5), (5.75, 7.7), (5.92, 7.7)],
    [(4.92, 4.96), (5.1, 5.5), (5.2, 5.9), (5.42, 5.6), (5.67, 5.2), (5.92, 5.06)],
    [(4.92, 8.08), (5.17, 8.0), (5.42, 7.9), (5.67, 7.8), (5.92, 7.79)],
    [(4.92, 7.98), (5.17, 7.6), (5.42, 7.1), (5.67, 6.85), (5.92, 6.75)],
    [(4.92, 7.32), (5.17, 7.1), (5.42, 6.9), (5.67, 6.8), (5.92, 6.75)],
    [(4.92, 3.77), (5.17, 3.6), (5.42, 3.45), (5.67, 3.35), (5.92, 3.3)],
    [(4.92, 3.02), (5.42, 3.2), (5.92, 3.3)],
    [(4.92, 8.08), (5.17, 8.3), (5.42, 8.9), (5.67, 9.5), (5.92, 9.87)],
    # A - Z
    [(5.92, -3.55), (6.28, -3.2), (6.64, -2.75), (7.0, -3.0), (7.36, -3.43)],
    [(5.92, -3.55), (6.28, -3.25), (6.64, -3.0), (7.0, -3.2), (7.36, -3.43)],
    [(5.92, 9.87), (6.28, 9.5), (6.64, 8.6), (6.9, 7.1), (7.1, 5.4), (7.25, 4.1), (7.36, 3.92)],
    [(5.92, 9.58), (6.28, 9.2), (6.64, 8.2), (6.9, 6.5), (7.1, 4.6), (7.25, 3.0), (7.36, 2.89)],
    [(5.92, 9.21), (6.28, 8.9), (6.64, 8.0), (6.9, 6.3), (7.1, 4.2), (7.25, 2.3), (7.36, 1.94)],
    [(5.92, 9.1), (6.28, 8.8), (6.64, 7.9), (6.9, 6.6), (7.1, 5.0), (7.25, 4.0), (7.36, 3.92)],
    [(5.92, 7.79), (6.28, 7.75), (6.64, 7.2), (6.9, 6.0), (7.1, 4.6), (7.25, 3.3), (7.36, 2.89)],
    [(5.92, 7.7), (6.28, 7.9), (6.64, 8.1), (7.0, 8.4), (7.36, 8.64)],
    [(5.92, 7.7), (6.28, 7.7), (6.64, 7.75), (7.0, 7.4), (7.36, 7.04)],
    [(5.92, 6.75), (6.28, 6.8), (6.64, 6.9), (7.0, 6.5), (7.36, 6.1)],
    [(5.92, 5.06), (6.28, 5.5), (6.64, 5.75), (7.0, 5.6), (7.36, 5.34)],
    [(5.92, 3.3), (6.28, 3.4), (6.64, 3.75), (7.0, 3.5), (7.36, 2.89)],
    [(5.92, 3.3), (6.28, 3.3), (6.64, 3.3), (7.0, 3.0), (7.36, 2.89)],
    [(5.92, 6.75), (6.28, 6.8), (6.64, 7.2), (7.0, 7.8), (7.36, 8.64)],
    [(5.92, 9.21), (6.28, 9.1), (6.64, 8.9), (7.0, 8.5), (7.36, 8.26)],
]

B_XR = [
    [(0, 20.66), (0.5, 20.62)], [(0, 19.96), (0.5, 20.0)], [(0, 19.0), (0.25, 19.15), (0.5, 19.3)],
    [(0, 18.77), (0.5, 18.77)], [(0, 17.4), (0.25, 17.55), (0.5, 17.7)], [(0, 16.94), (0.25, 16.75), (0.5, 16.6)],
    [(0, 16.57), (0.25, 16.35), (0.5, 16.19)], [(0, 15.53), (0.25, 16.1), (0.5, 16.6)], [(0, 14.96), (0.25, 15.3), (0.5, 15.55)],
    [(0, 14.92), (0.25, 14.5), (0.5, 14.11)], [(0, 14.2), (0.5, 14.11)], [(0, 13.13), (0.5, 13.26)], [(0, 12.8), (0.25, 13.1), (0.5, 13.26)],
    [(0, 11.38), (0.5, 11.38)], [(0, 11.15), (0.25, 11.0), (0.5, 10.9)], [(0, 10.4), (0.5, 10.34)],
    [(0, 10.0), (0.17, 9.8), (0.34, 9.1), (0.5, 8.1)], [(0, 9.2), (0.5, 9.21)], [(0, 9.15), (0.25, 9.0), (0.5, 8.92)],
    [(0, 8.42), (0.25, 8.3), (0.5, 8.08)], [(0, 7.8), (0.25, 7.9), (0.5, 8.0)], [(0, 6.1), (0.25, 6.9), (0.5, 7.32)],
    [(0, 3.45), (0.14, 4.8), (0.31, 6.7), (0.5, 8.1)], [(0, 3.45), (0.25, 3.8), (0.5, 3.83)],
    [(0, 5.62), (0.5, 5.62)], [(0, 5.5), (0.25, 5.3), (0.5, 4.96)], [(0, 4.4), (0.17, 3.9), (0.34, 3.3), (0.5, 3.02)],
    [(0, 5.43), (0.5, 5.43)],
    [(0, 1.1), (0.05, 1.0), (0.09, 0.62), (0.125, -0.04), (0.18, -0.6), (0.35, -1.36), (0.5, -1.74)],
    [(0, -2.07), (0.5, -1.96)],
]
B_MA = [
    [(0, 19.62), (0.5, 19.68)], [(0, 18.83), (0.5, 19.1)], [(0, 18.83), (0.5, 19.0)], [(0, 18.3), (0.5, 18.17)],
    [(0, 17.85), (0.5, 17.85)], [(0, 15.15), (0.5, 15.15)], [(0, 15.0), (0.5, 15.05)],
    [(0, 13.6), (0.13, 14.2), (0.5, 14.77)], [(0, 14.34), (0.5, 14.2)], [(0, 14.1), (0.5, 14.2)],
    [(0, 12.04), (0.25, 12.3), (0.5, 12.42)], [(0, 11.5), (0.25, 11.2), (0.5, 11.0)],
    [(0, 10.75), (0.2, 10.3), (0.5, 9.87)], [(0, 10.25), (0.25, 9.9), (0.5, 9.58)], [(0, 10.02), (0.23, 9.6), (0.5, 9.21)],
    [(0, 9.4), (0.5, 9.21)], [(0, 8.74), (0.5, 8.85)], [(0, 8.36), (0.2, 7.9), (0.5, 7.79)],
    [(0, 6.32), (0.23, 7.15), (0.5, 7.7)], [(0, 6.75), (0.5, 6.75)], [(0, 6.1), (0.25, 6.3), (0.5, 6.75)],
    [(0, 5.15), (0.2, 5.1), (0.5, 3.3)], [(0, 4.49), (0.2, 5.5), (0.5, 7.79)], [(0, 5.05), (0.5, 5.06)],
    [(0, -1.83), (0.5, -1.83)], [(0, -3.34), (0.25, -3.45), (0.5, -3.57)],
]

PANELS = [
    {"label": "(a)", "bands": A_HIGH + A_MID + A_LOW, "xr": A_XR, "ma": A_MA,
     "ylim": (-3.62, 21.63), "main": (89, 825), "xr_px": (844, 894), "ma_px": (915, 965), "rows": (17, 657)},
    {"label": "(b)", "bands": B_HIGH + B_MID + B_LOW, "xr": B_XR, "ma": B_MA,
     "ylim": (-4.8, 21.9), "main": (94, 827), "xr_px": (849, 899), "ma_px": (920, 970), "rows": (722, 1373)},
]

W, H = 1001, 1423
RED = "#ff0000"


def add_axes(fig, xpx, ypx):
    left = xpx[0] / W
    width = (xpx[1] - xpx[0]) / W
    bottom = 1 - ypx[1] / H
    height = (ypx[1] - ypx[0]) / H
    return fig.add_axes([left, bottom, width, height])


def style_axes(ax, ylim, xmax, ticks, labels, show_y):
    ax.set_xlim(0, xmax)
    ax.set_ylim(*ylim)
    ax.axhline(0, color="blue", lw=0.8, ls=(0, (1, 1.5)), zorder=1)
    ax.set_xticks(ticks)
    ax.set_xticklabels(labels)
    ax.set_yticks(FREQ_TICKS)
    if show_y:
        ax.set_yticklabels([f"${v}$" for v in FREQ_TICKS])
    else:
        ax.set_yticklabels([])
    for side in ax.spines.values():
        side.set_linewidth(1.5)
    ax.tick_params(axis="y", direction="in", left=True, right=True, length=6.5, width=1.2, labelsize=17, pad=5)
    ax.tick_params(axis="x", direction="in", top=True, bottom=True, length=6.5 if show_y else 0,
                   width=1.2, labelsize=17, pad=5)


def draw_bands(ax, bands):
    for band in bands:
        ks = [p[0] for p in band]
        fs = [p[1] for p in band]
        ax.plot(ks, fs, color=RED, lw=1.4, solid_joinstyle="round", solid_capstyle="round", zorder=2)


fig = plt.figure(figsize=(W / 100, H / 100), dpi=100)

for panel in PANELS:
    ax = add_axes(fig, panel["main"], panel["rows"])
    draw_bands(ax, panel["bands"])
    style_axes(ax, panel["ylim"], PATH_TICKS[-1], PATH_TICKS, PATH_LABELS, True)
    ax.set_ylabel("Frequency (THz)", fontsize=15, labelpad=9)

    ax_xr = add_axes(fig, panel["xr_px"], panel["rows"])
    draw_bands(ax_xr, panel["xr"])
    style_axes(ax_xr, panel["ylim"], 0.5, [0, 0.5], XR_LABELS, False)

    ax_ma = add_axes(fig, panel["ma_px"], panel["rows"])
    draw_bands(ax_ma, panel["ma"])
    style_axes(ax_ma, panel["ylim"], 0.5, [0, 0.5], MA_LABELS, False)

    top = 1 - (panel["rows"][0] - 17) / H
    fig.text(0.003, top, panel["label"], fontsize=22, va="top", ha="left")

fig.savefig("out.png", dpi=100)
